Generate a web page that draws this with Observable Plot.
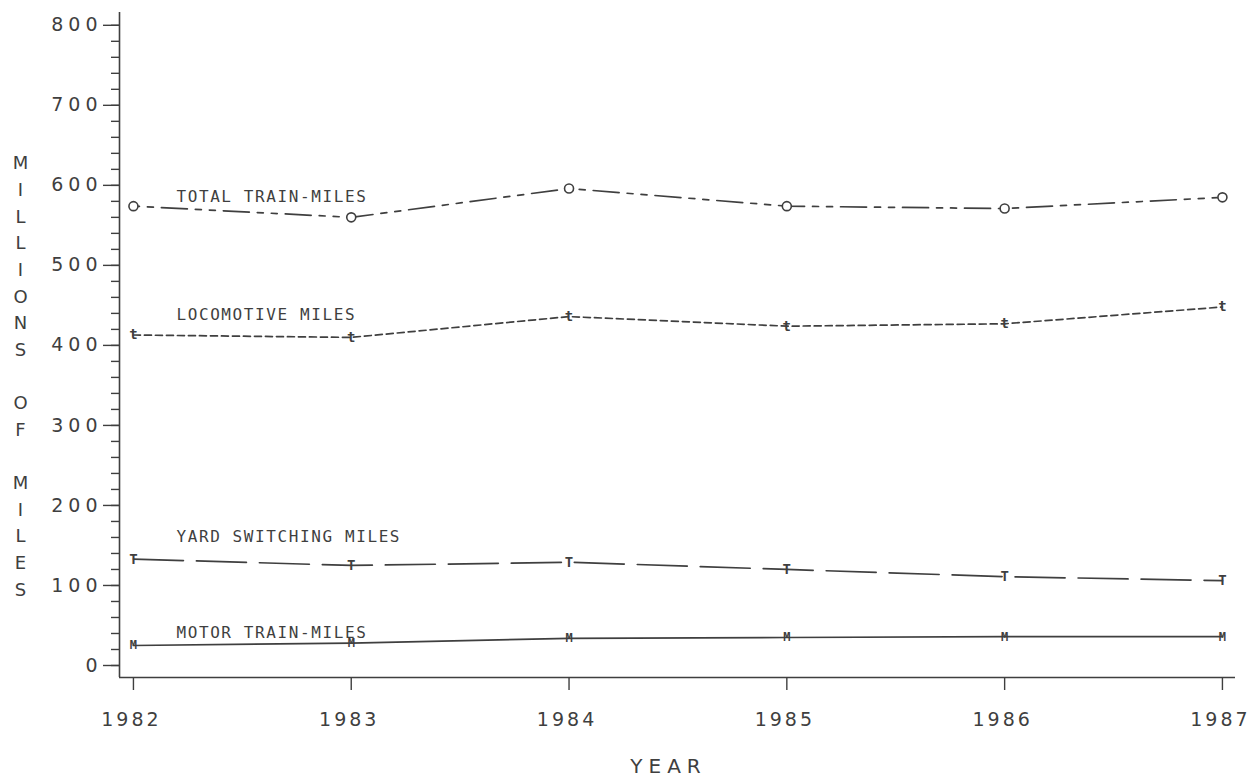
<!DOCTYPE html>
<html>
<head>
<meta charset="utf-8">
<script src="https://cdn.jsdelivr.net/npm/d3@7"></script>
<script src="https://cdn.jsdelivr.net/npm/@observablehq/plot@0.6"></script>
<style>
  html, body { margin: 0; padding: 0; background: #fff; }
  #chart svg { display: block; }
  g[aria-label="y-axis tick label"] text { letter-spacing: 5px; }
  g[aria-label="x-axis tick label"] text { letter-spacing: 3px; }
  g[aria-description="series-labels"] text { letter-spacing: 1.6px; }
  g[aria-description="axis-titles"] text { letter-spacing: 6px; }
</style>
</head>
<body>
<div id="chart"></div>
<script>
// ---- data ----
const years = [1982, 1983, 1984, 1985, 1986, 1987];
const totalTrainMiles    = [574, 560, 596, 574, 571, 585];
const locomotiveMiles    = [413, 410, 436, 424, 427, 448];
const yardSwitchingMiles = [133, 125, 129, 120, 111, 106];
const motorTrainMiles    = [25, 28, 34, 35, 36, 36];
const seriesNames = ["TOTAL TRAIN-MILES", "LOCOMOTIVE MILES", "YARD SWITCHING MILES", "MOTOR TRAIN-MILES"];
const yTickValues = [0, 100, 200, 300, 400, 500, 600, 700, 800];
const yMinorTickValues = [0,20,40,60,80,100,120,140,160,180,200,220,240,260,280,300,320,340,360,380,400,420,440,460,480,500,520,540,560,580,600,620,640,660,680,700,720,740,760,780,800];
const xTickValues = years;
const yAxisTitle = "MILLIONS OF MILES";
const xAxisTitle = "YEAR";

// ---- styles (not data) ----
const seriesStyle = {
  "TOTAL TRAIN-MILES":    { dash: "6,8,6,8,26,8", labelDy: -9,  marker: "o" },
  "LOCOMOTIVE MILES":     { dash: "7,4",          labelDy: -20, marker: "t" },
  "YARD SWITCHING MILES": { dash: "50,13",        labelDy: -22, marker: "T" },
  "MOTOR TRAIN-MILES":    { dash: null,           labelDy: -13, marker: "M" }
};
const ink = "#3f3f3f";
const xDomain = [1981.936, 1987.06];
const yDomain = [-15, 816];

const seriesValues = [totalTrainMiles, locomotiveMiles, yardSwitchingMiles, motorTrainMiles];
const table = seriesNames.map((name, i) =>
  years.map((year, j) => ({ series: name, year, value: seriesValues[i][j] }))
);

const marks = [];
// axis lines
marks.push(Plot.ruleX([xDomain[0]], { stroke: ink, strokeWidth: 1.6 }));
marks.push(Plot.ruleY([yDomain[0]], { stroke: ink, strokeWidth: 1.6 }));
// y axis
marks.push(Plot.axisY(yMinorTickValues, { label: null, tickSize: 8, tickFormat: () => "", stroke: ink, strokeWidth: 1.4 }));
marks.push(Plot.axisY(yTickValues, { label: null, tickSize: 16, tickPadding: 1, fontSize: 19, fontFamily: "DejaVu Sans", color: ink, strokeWidth: 1.4 }));
// x axis: tick marks, then labels
marks.push(Plot.axisX(xTickValues, { label: null, tickSize: 13, tickFormat: () => "", stroke: ink, strokeWidth: 1.4 }));
marks.push(Plot.axisX(xTickValues, { label: null, tickSize: 0, tickPadding: 35, dx: -2, fontSize: 19, fontFamily: "DejaVu Sans", color: ink, tickFormat: d => String(d) }));

// series lines, markers, labels
table.forEach((rows, i) => {
  const name = seriesNames[i];
  const st = seriesStyle[name];
  marks.push(Plot.line(rows, {
    x: "year", y: "value", stroke: ink, strokeWidth: 1.7,
    strokeDasharray: st.dash || undefined
  }));
  if (st.marker === "o") {
    marks.push(Plot.dot(rows, { x: "year", y: "value", r: 4.5, fill: "white", stroke: ink, strokeWidth: 1.6 }));
  } else {
    marks.push(Plot.text(rows, {
      x: "year", y: "value", text: () => st.marker, fill: ink,
      fontSize: st.marker === "M" ? 12 : 14, fontWeight: "bold", fontFamily: "DejaVu Sans Mono"
    }));
  }
  marks.push(Plot.text([rows[0]], {
    x: "year", y: "value", text: () => name, textAnchor: "start",
    dx: 43, dy: st.labelDy, fill: ink, fontSize: 16, fontFamily: "DejaVu Sans Mono",
    ariaDescription: "series-labels"
  }));
});

// axis titles
const stacked = yAxisTitle.split("").map(c => c === " " ? "\u00a0" : c).join("\n");
marks.push(Plot.text([stacked], {
  frameAnchor: "left", dx: -99, dy: 29, textAnchor: "middle", lineHeight: 1.48,
  fontSize: 18, fontFamily: "DejaVu Sans", fill: ink, ariaDescription: "axis-titles-y"
}));
marks.push(Plot.text([xAxisTitle], {
  frameAnchor: "bottom", dx: -9, dy: 95, textAnchor: "middle",
  fontSize: 20, fontFamily: "DejaVu Sans", fill: ink, ariaDescription: "axis-titles"
}));

const chart = Plot.plot({
  width: 1253,
  height: 782,
  marginLeft: 119,
  marginRight: 18,
  marginTop: 12,
  marginBottom: 105,
  x: { domain: xDomain },
  y: { domain: yDomain },
  style: { background: "white", color: ink },
  marks
});
document.getElementById("chart").appendChild(chart);
</script>
</body>
</html>
